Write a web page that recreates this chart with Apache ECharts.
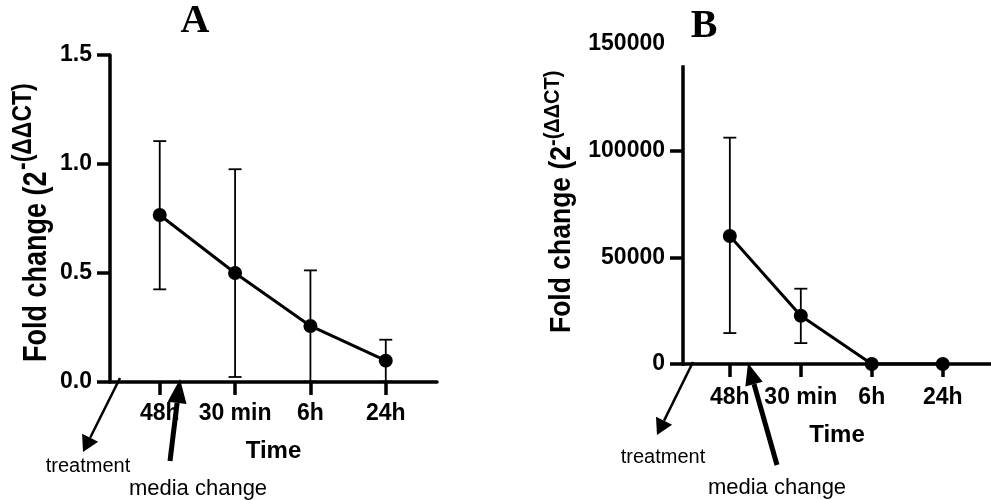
<!DOCTYPE html>
<html>
<head>
<meta charset="utf-8">
<script src="https://cdn.jsdelivr.net/npm/echarts@6/dist/echarts.min.js"></script>
<style>
  html, body { margin: 0; padding: 0; background: #fff; }
  #main { width: 991px; height: 500px; }
</style>
</head>
<body>
<div id="main"></div>
<script>
// categories (time points)
var cats = ['48h', '30 min', '6h', '24h'];

// panel A - fold change, mean and error bar ends
var meanA = [0.766, 0.50, 0.257, 0.098];
var lowA = [0.425, 0.023, 0.002, 0.002];
var highA = [1.105, 0.976, 0.512, 0.194];

// panel B
var meanB = [60000, 22600, 0, 0];
var lowB = [14500, 9800, 0, 0];
var highB = [106100, 35300, 0, 0];

// y axis ticks
var yTicksA = [0, 0.5, 1.0, 1.5];
var yTicksB = [0, 50000, 100000, 150000];

var FONT = '"Liberation Sans", Arial, sans-serif';
var SERIF = '"Liberation Serif", "Times New Roman", serif';
var xMin = -0.66, xMax = 3.68;
var tickPos = [0, 1, 2, 3];
var AX_W = 3.5;

var myChart = echarts.init(document.getElementById('main'));

function lineData(vals) {
    return vals.map(function (v, i) { return [i, v]; });
}
function errData(lo, hi) {
    return lo.map(function (v, i) { return [i, v, hi[i]]; });
}

// error bar drawing, cap width ~13px
function errBar(params, api) {
    var x = api.value(0);
    var lo = api.coord([x, api.value(1)]);
    var hi = api.coord([x, api.value(2)]);
    var half = 6.5;
    var st = { stroke: '#000', lineWidth: 1.8 };
    return {
        type: 'group',
        children: [
            { type: 'line', shape: { x1: lo[0], y1: lo[1], x2: hi[0], y2: hi[1] }, style: st },
            { type: 'line', shape: { x1: hi[0] - half, y1: hi[1], x2: hi[0] + half, y2: hi[1] }, style: st },
            { type: 'line', shape: { x1: lo[0] - half, y1: lo[1], x2: lo[0] + half, y2: lo[1] }, style: st }
        ]
    };
}

function xAxisCfg(idx) {
    return {
        type: 'value',
        gridIndex: idx,
        min: xMin,
        max: xMax,
        name: 'Time',
        nameLocation: 'middle',
        nameGap: idx === 0 ? 57 : 59,
        nameTextStyle: { fontFamily: FONT, fontWeight: 'bold', fontSize: 24, color: '#000' },
        axisLine: { onZero: false, lineStyle: { color: '#000', width: AX_W } },
        axisTick: { customValues: tickPos, length: 13, lineStyle: { color: '#000', width: AX_W } },
        axisLabel: {
            customValues: tickPos,
            margin: idx === 0 ? 20 : 22,
            fontFamily: FONT, fontWeight: 'bold', fontSize: 23, color: '#000',
            formatter: function (v) { return cats[Math.round(v)]; }
        },
        splitLine: { show: false }
    };
}

var option = {
    backgroundColor: '#fff',
    animation: false,
    grid: [
        { left: 110, top: 55, width: 327, height: 327 },
        { left: 683, top: 44, width: 321, height: 320 }
    ],
    xAxis: [xAxisCfg(0), xAxisCfg(1)],
    yAxis: [
        {
            type: 'value', gridIndex: 0,
            min: yTicksA[0], max: yTicksA[yTicksA.length - 1], interval: 0.5,
            axisLine: { show: true, onZero: false, lineStyle: { color: '#000', width: AX_W } },
            axisTick: { show: true, length: 13, lineStyle: { color: '#000', width: AX_W } },
            axisLabel: {
                margin: 18, fontFamily: FONT, fontWeight: 'bold', fontSize: 23, color: '#000',
                formatter: function (v) { return v.toFixed(1); }
            },
            splitLine: { show: false }
        },
        {
            type: 'value', gridIndex: 1,
            min: yTicksB[0], max: yTicksB[yTicksB.length - 1], interval: 50000,
            // axis line drawn below, it stops short of the top tick like in the figure
            axisLine: { show: false, onZero: false },
            axisTick: { show: true, customValues: [0, 50000, 100000], length: 13, lineStyle: { color: '#000', width: AX_W } },
            axisLabel: {
                margin: 18, fontFamily: FONT, fontWeight: 'bold', fontSize: 23, color: '#000',
                formatter: function (v) { return String(v); }
            },
            splitLine: { show: false }
        }
    ],
    series: [
        {
            type: 'custom', xAxisIndex: 0, yAxisIndex: 0,
            renderItem: errBar, data: errData(lowA, highA), z: 3
        },
        {
            type: 'line', xAxisIndex: 0, yAxisIndex: 0,
            data: lineData(meanA), symbol: 'circle', symbolSize: 14,
            itemStyle: { color: '#000' }, lineStyle: { color: '#000', width: 3 }, z: 4
        },
        {
            type: 'custom', xAxisIndex: 1, yAxisIndex: 1,
            renderItem: errBar, data: errData(lowB, highB), z: 3
        },
        {
            type: 'line', xAxisIndex: 1, yAxisIndex: 1,
            data: lineData(meanB), symbol: 'circle', symbolSize: 14,
            itemStyle: { color: '#000' }, lineStyle: { color: '#000', width: 3 }, z: 4
        }
    ]
};
myChart.setOption(option);

// arrow: line plus filled head
function arrow(x1, y1, x2, y2, w, headLen, headW) {
    var dx = x2 - x1, dy = y2 - y1;
    var len = Math.sqrt(dx * dx + dy * dy);
    var ux = dx / len, uy = dy / len;
    var bx = x2 - ux * headLen, by = y2 - uy * headLen;
    var px = -uy * headW / 2, py = ux * headW / 2;
    return [
        { type: 'line', shape: { x1: x1, y1: y1, x2: bx, y2: by }, style: { stroke: '#000', lineWidth: w }, z: 10 },
        { type: 'polygon', shape: { points: [[x2, y2], [bx + px, by + py], [bx - px, by - py]] }, style: { fill: '#000' }, z: 10 }
    ];
}
function label(text, x, y, size, extra) {
    var st = { text: text, x: x, y: y, fill: '#000', align: 'center', verticalAlign: 'middle', fontSize: size, fontFamily: FONT };
    for (var k in extra) st[k] = extra[k];
    return { type: 'text', style: st, z: 10 };
}
// rotated y axis title, glyphs a little stretched across like the figure
function yTitle(text, x, y, size, stretch) {
    return {
        type: 'text', x: x, y: y, rotation: Math.PI / 2, scaleY: stretch, z: 10,
        style: { text: text, fill: '#000', fontSize: size, fontWeight: 'bold', fontFamily: FONT, align: 'left', verticalAlign: 'bottom' }
    };
}

var p0 = myChart.convertToPixel({ xAxisIndex: 1, yAxisIndex: 1 }, [xMin, 0]);
var p1 = myChart.convertToPixel({ xAxisIndex: 1, yAxisIndex: 1 }, [xMin, 140000]);

var gfx = [
    label('A', 195, 22, 40, { fontFamily: SERIF, fontWeight: 'bold' }),
    label('B', 704, 27, 40, { fontFamily: SERIF, fontWeight: 'bold' }),
    { type: 'line', shape: { x1: p0[0], y1: p0[1] + AX_W / 2, x2: p1[0], y2: p1[1] }, style: { stroke: '#000', lineWidth: AX_W }, z: 5 },
    yTitle('Fold change (2', 53, 362, 27, 1.2),
    yTitle('-(ΔΔCT)', 37, 170, 23, 1.2),
    yTitle('Fold change (2', 577, 333, 26.5, 1.1),
    yTitle('-(ΔΔCT)', 564, 146, 20, 1.1),
    label('treatment', 88, 466, 20),
    label('media change', 198, 489, 22),
    label('treatment', 663, 457, 20),
    label('media change', 777, 488, 22)
];
gfx = gfx.concat(arrow(120, 378, 83, 452, 2.5, 16, 18));
gfx = gfx.concat(arrow(170, 461, 180, 379, 5, 24, 19));
gfx = gfx.concat(arrow(693, 362, 657, 435, 2.5, 16, 18));
gfx = gfx.concat(arrow(777, 465, 748, 363, 5, 22, 18));

myChart.setOption({ graphic: gfx });
</script>
</body>
</html>
